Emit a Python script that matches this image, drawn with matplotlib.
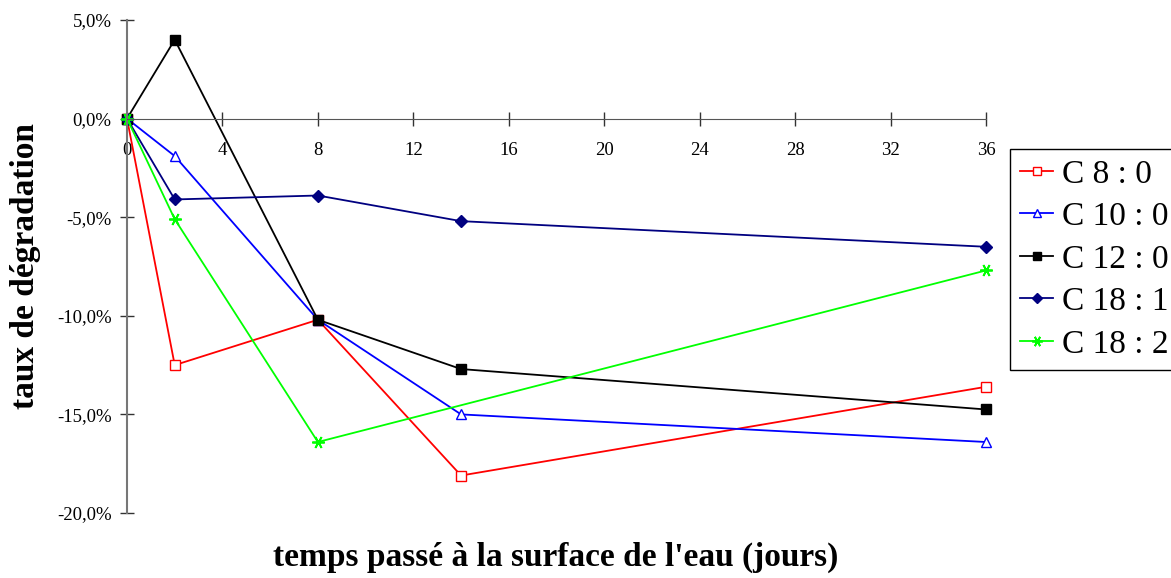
import matplotlib
matplotlib.use("Agg")
import matplotlib.pyplot as plt
from matplotlib.ticker import FuncFormatter, MultipleLocator

# Data (degradation rate, %)
days = [0, 2, 8, 14, 36]
days_c182 = [0, 2, 8, 36]
c8_0 = [0.0, -12.5, -10.2, -18.1, -13.6]
c10_0 = [0.0, -1.9, -10.2, -15.0, -16.4]
c12_0 = [0.0, 4.0, -10.2, -12.7, -14.75]
c18_1 = [0.0, -4.1, -3.9, -5.2, -6.5]
c18_2 = [0.0, -5.1, -16.4, -7.7]

plt.rcParams['font.family'] = ['Liberation Serif', 'DejaVu Serif']

W, H = 1171, 578
fig = plt.figure(figsize=(W / 100, H / 100), dpi=100)
ax = fig.add_axes([127 / W, 1 - 513 / H, (986 - 127) / W, (513 - 20) / H])

ax.plot(days, c8_0, color='#FF0000', marker='s', mfc='white', mec='#FF0000', ms=7, lw=1.3, label='C 8 : 0')
ax.plot(days, c10_0, color='#0000FF', marker='^', mfc='white', mec='#0000FF', ms=7, lw=1.3, label='C 10 : 0')
ax.plot(days, c12_0, color='black', marker='s', ms=7, lw=1.3, label='C 12 : 0')
ax.plot(days, c18_1, color='#000080', marker='D', ms=6, lw=1.3, label='C 18 : 1')
ax.plot(days_c182, c18_2, color='#00FF00', marker=(6, 2, 90), ms=9, mew=1.3, lw=1.3, label='C 18 : 2')

ax.set_xlim(0, 36)
ax.set_ylim(-20, 5)
ax.xaxis.set_major_locator(MultipleLocator(4))
ax.yaxis.set_major_locator(MultipleLocator(5))
ax.yaxis.set_major_formatter(FuncFormatter(lambda v, p: f"{v:.1f}%".replace('.', ',')))

ax.spines['top'].set_visible(False)
ax.spines['right'].set_visible(False)
ax.spines['bottom'].set_position(('data', 0))
ax.spines['bottom'].set_color('#555555')
ax.spines['left'].set_color('#777777')
ax.spines['left'].set_linewidth(1.5)
ax.tick_params(axis='both', direction='inout', length=10, width=1, colors='#333333', labelsize=13.5, labelcolor='black')
ax.tick_params(axis='x', pad=12)
ax.tick_params(axis='y', pad=6)
for ln in ax.lines:
    ln.set_clip_on(False)

fig.text(556 / W, 1 - 557 / H, "temps passé à la surface de l'eau (jours)",
         ha='center', va='center', fontsize=24, fontweight='bold')
fig.text(26 / W, 1 - 266 / H, "taux de dégradation", rotation=90,
         ha='center', va='center', fontsize=24, fontweight='bold')

leg = ax.legend(loc='upper left', bbox_to_anchor=(1010 / W, 1 - 149 / H), bbox_transform=fig.transFigure,
                fontsize=24, frameon=True, fancybox=False, edgecolor='black', framealpha=1,
                handlelength=1.0, handletextpad=0.25, borderpad=0.3, labelspacing=0.36, borderaxespad=0,
                markerscale=0.85)
leg.get_frame().set_linewidth(1.0)

fig.savefig('out.png', dpi=100)
